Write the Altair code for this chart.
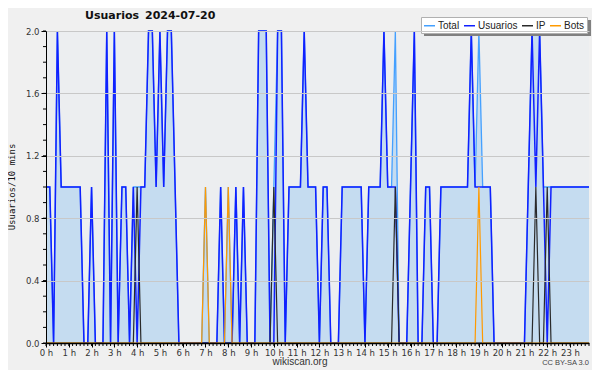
import altair as alt
import pandas as pd

# ---- data (10-minute slots, 0:00 .. 23:50) ----
usuarios = [1, 1, 0, 2, 1, 1, 1, 1, 1, 1,
            0, 0, 1, 0, 0, 0, 2, 0, 2, 0,
            1, 1, 0, 1, 0, 1, 1, 2, 2, 1,
            2, 1, 2, 2, 1, 0, 0, 0, 0, 0,
            0, 0, 0, 0, 0, 0, 1, 0, 0, 0,
            1, 0, 1, 0, 0, 0, 2, 2, 2, 0,
            0, 2, 2, 0, 1, 1, 1, 1, 2, 1,
            1, 1, 0, 1, 1, 0, 0, 0, 1, 1,
            1, 1, 1, 1, 0, 1, 1, 1, 1, 2,
            1, 1, 1, 0, 0, 0, 1, 2, 0, 0,
            1, 1, 0, 0, 1, 1, 1, 1, 1, 1,
            1, 1, 2, 1, 1, 1, 1, 1, 0, 0,
            0, 0, 0, 0, 0, 0, 0, 1, 2, 1,
            2, 1, 0, 1, 1, 1, 1, 1, 1, 1,
            1, 1, 1, 1]
ip = [0] * 144
for k in (24, 60, 92, 129, 132):
    ip[k] = 1
bots = [0] * 144
for k in (42, 48, 114):
    bots[k] = 1
total = [1, 1, 0, 2, 1, 1, 1, 1, 1, 1,
         0, 0, 1, 0, 0, 0, 2, 0, 2, 0,
         1, 1, 0, 1, 1, 1, 1, 2, 2, 1,
         2, 1, 2, 2, 1, 0, 0, 0, 0, 0,
         0, 0, 1, 0, 0, 0, 1, 0, 1, 0,
         1, 0, 1, 0, 0, 0, 2, 2, 2, 0,
         1, 2, 2, 0, 1, 1, 1, 1, 2, 1,
         1, 1, 0, 1, 1, 0, 0, 0, 1, 1,
         1, 1, 1, 1, 0, 1, 1, 1, 1, 2,
         1, 1, 2, 0, 0, 0, 1, 2, 0, 0,
         1, 1, 0, 0, 1, 1, 1, 1, 1, 1,
         1, 1, 2, 1, 2, 1, 1, 1, 0, 0,
         0, 0, 0, 0, 0, 0, 0, 1, 2, 2,
         2, 1, 1, 1, 1, 1, 1, 1, 1, 1,
         1, 1, 1, 1]

series_names = ["Total", "Usuarios", "IP", "Bots"]
series_colors = ["#44a0ff", "#1020ff", "#2a2a2a", "#ff9a00"]
hour_ticks = list(range(24))
y_ticks = [0.0, 0.4, 0.8, 1.2, 1.6, 2.0]
y_minor = [k / 10 for k in range(21)]
x_minor = [k / 6 for k in range(144)]

rows = []
for name, vals in zip(series_names, [total, usuarios, ip, bots]):
    for i, v in enumerate(vals):
        rows.append({"slot": i, "series": name, "value": v})
df = pd.DataFrame(rows)

W, H = 543, 312
FONT = "DejaVu Sans"

xscale = alt.Scale(domain=[0, 143 / 6], nice=False, zero=False)
yscale = alt.Scale(domain=[0, 2], nice=False)

base = alt.Chart(df).transform_calculate(hour="datum.slot / 6")

color = alt.Color(
    "series:N",
    scale=alt.Scale(domain=series_names, range=series_colors),
    legend=alt.Legend(
        title=None, orient="none", legendX=375, legendY=-14,
        direction="horizontal", symbolType="stroke", symbolSize=121,
        symbolStrokeWidth=1.5, labelFont="Liberation Sans", labelFontSize=10,
        labelColor="#222", labelOffset=2, columnPadding=1, padding=2,
        fillColor="#ffffff", strokeColor="#b0b0b0", rowPadding=0,
    ),
)

x_axis = alt.Axis(values=hour_ticks, labelExpr="datum.value + ' h'",
                  grid=False, tickSize=4, labelFontSize=8.5, labelFont=FONT,
                  labelColor="#333", labelPadding=1, domainColor="#000",
                  domainWidth=1.6, tickColor="#000", labelFlush=False,
                  labelOverlap=False, labelBound=False, zindex=1)
y_axis = alt.Axis(values=y_ticks, format=".1f", grid=True, gridColor="#c8c8c8",
                  tickSize=5, labelFontSize=8.5, labelFont=FONT, labelColor="#333",
                  labelPadding=2, domainColor="#000", tickColor="#000",
                  labelOverlap=False, zindex=1)

area = base.transform_filter("datum.series == 'Total'").mark_area(
    color="#c5dcf0", opacity=1, interpolate="linear"
).encode(
    x=alt.X("hour:Q", scale=xscale, title=None, axis=x_axis),
    y=alt.Y("value:Q", scale=yscale, title=None, axis=y_axis),
)

def series_line(name, width):
    return base.transform_filter(f"datum.series == '{name}'").mark_line(
        strokeWidth=width, interpolate="linear"
    ).encode(
        x=alt.X("hour:Q", scale=xscale, title=None, axis=x_axis),
        y=alt.Y("value:Q", scale=yscale, title=None, axis=y_axis),
        color=color,
    )

lines = [series_line("Total", 1.3), series_line("Usuarios", 1.5),
         series_line("IP", 1.2), series_line("Bots", 1.2)]

ymin_df = pd.DataFrame({"v": y_minor})
ytick_minor = alt.Chart(ymin_df).mark_rule(color="#000", strokeWidth=1).encode(
    y=alt.Y("v:Q", scale=yscale, title=None, axis=y_axis), x=alt.value(-3), x2=alt.value(0))
xmin_df = pd.DataFrame({"v": x_minor})
xtick_minor = alt.Chart(xmin_df).mark_rule(color="#000", strokeWidth=1).encode(
    x=alt.X("v:Q", scale=xscale, title=None, axis=x_axis), y=alt.value(H), y2=alt.value(H + 3))

one = pd.DataFrame({"a": [0]})
shadow = alt.Chart(one).mark_rect(color="#808080").encode(
    x=alt.value(378), x2=alt.value(545), y=alt.value(-11), y2=alt.value(5))

def label(txt, x, y, size, weight="normal", align="left", font=FONT, color="#111", angle=0):
    return alt.Chart(one).mark_text(
        text=txt, fontSize=size, fontWeight=weight, align=align, baseline="middle",
        font=font, color=color, angle=angle
    ).encode(x=alt.value(x), y=alt.value(y))

title1 = label("Usuarios", 39, -15, 11, "bold")
title2 = label("2024-07-20", 99, -15, 11, "bold")
ytitle = label("Usuarios/10 mins", -34, 156, 9, font="DejaVu Sans Mono", align="center", angle=270)
site = label("wikiscan.org", 254, 331, 10, font="Liberation Sans", align="center", color="#333")
lic = label("CC BY-SA 3.0", 543, 332, 7.5, font="Liberation Sans", align="right", color="#444")

chart = alt.layer(
    area, *lines, ytick_minor, xtick_minor, shadow, title1, title2, ytitle, site, lic
).properties(
    width=W, height=H,
    padding={"left": 38, "top": 23, "right": 3, "bottom": 27},
    autosize="none",
    background="#f0f0f0",
).configure_view(
    fill="#eceef0", stroke=None
).configure_axis(
    labelOverlap=False
)

chart.save("out.html", embed_options={"renderer": "svg", "actions": False})
